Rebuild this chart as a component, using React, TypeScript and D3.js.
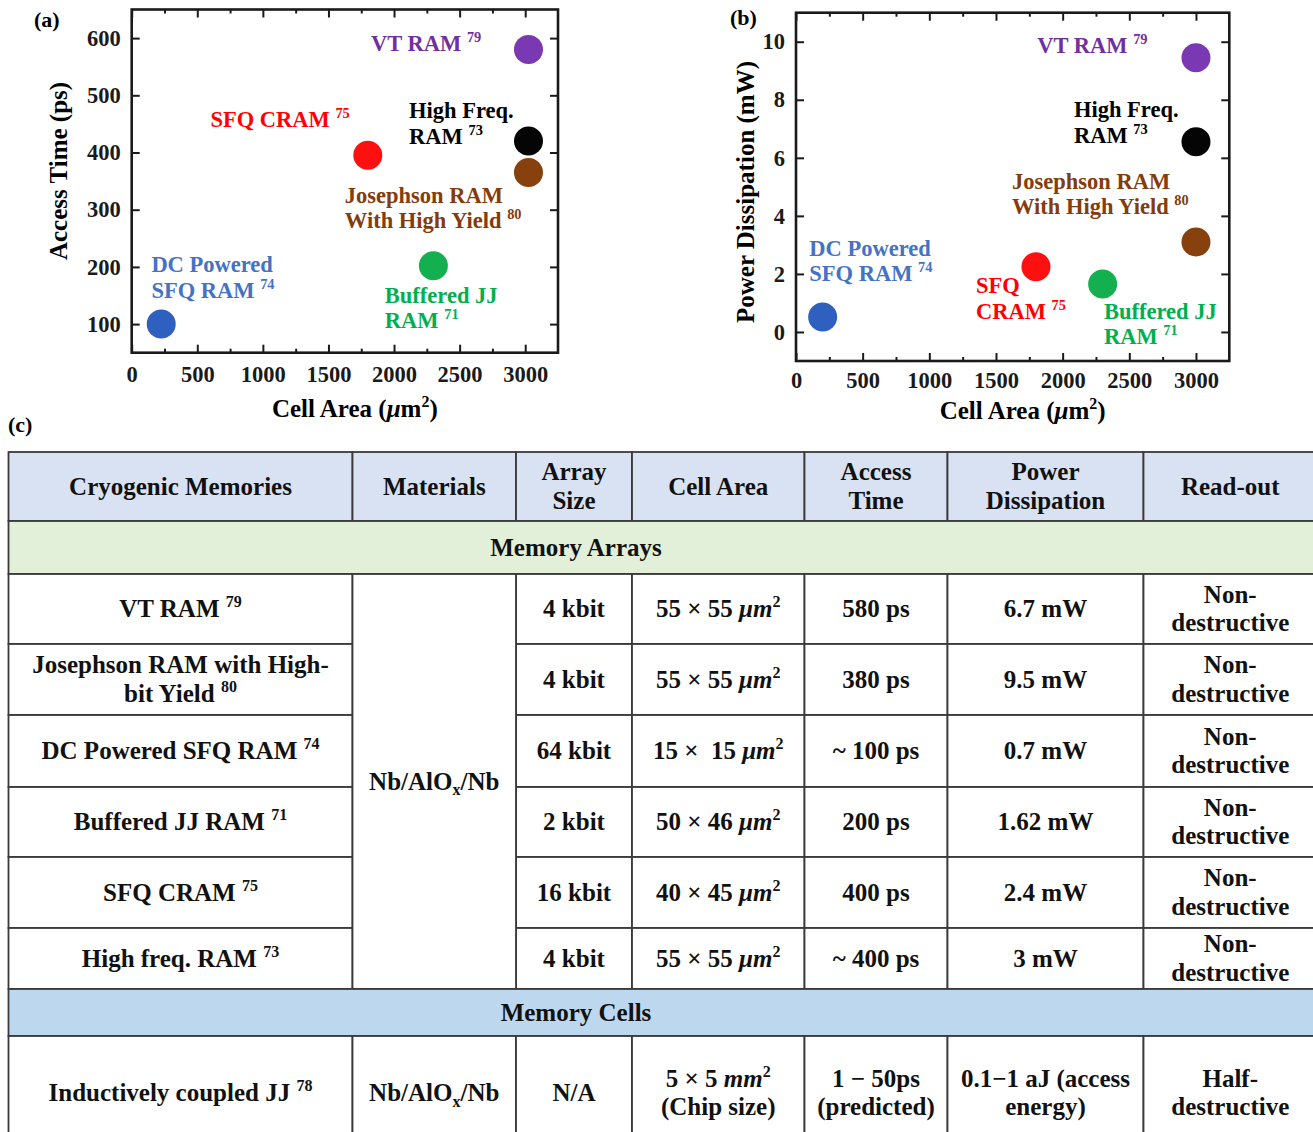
import * as d3 from "d3";
import React, { useRef, useEffect } from "react";

const W = 1313;
const H = 1132;
const FONT = "'Liberation Serif', 'Times New Roman', serif";

// ---- scatter data (panels a, b) ----
const memNames = ["DC Powered SFQ RAM", "SFQ CRAM", "Buffered JJ RAM", "VT RAM", "High Freq. RAM", "Josephson RAM With High Yield"];
const memRefs = ["74", "75", "71", "79", "73", "80"];
const cellAreaA = [225, 1800, 2300, 3025, 3025, 3025];
const accessTime = [100, 395, 202, 580, 420, 365];
const cellAreaB = [200, 1800, 2300, 3000, 3000, 3000];
const powerDiss = [0.52, 2.25, 1.65, 9.45, 6.55, 3.1];

const xTicks = [0, 500, 1000, 1500, 2000, 2500, 3000];
const yTicksA = [100, 200, 300, 400, 500, 600];
const yTicksB = [0, 2, 4, 6, 8, 10];

const labelLinesA = [["DC Powered", "SFQ RAM"], ["SFQ CRAM"], ["Buffered JJ", "RAM"], ["VT RAM"], ["High Freq.", "RAM"], ["Josephson RAM", "With High Yield"]];
const labelLinesB = [["DC Powered", "SFQ RAM"], ["SFQ", "CRAM"], ["Buffered JJ", "RAM"], ["VT RAM"], ["High Freq.", "RAM"], ["Josephson RAM", "With High Yield"]];

// styling / annotation placement (data units)
const dotColors = ["#2f5fbf", "#ff1010", "#14b050", "#7b38b3", "#050505", "#87410f"];
const textColors = ["#4472c4", "#ff0000", "#00b050", "#7030a0", "#000000", "#843c0c"];
const labelPosA = [[150, 191], [600, 445], [1930, 137], [1825, 577], [2115, 460], [1625, 312]];
const labelPosB = [[100, 2.62], [1350, 1.34], [2310, 0.45], [1810, 9.6], [2085, 7.4], [1620, 4.93]];

// ---- table data ----
type Seg = [string, string];
type Line = Seg[];
type Cell = Line[];
const p = (...lines: string[]): Cell => lines.map((s) => [[s, "n"]]);

const headerCells: Cell[] = [
  p("Cryogenic Memories"), p("Materials"), p("Array", "Size"), p("Cell Area"),
  p("Access", "Time"), p("Power", "Dissipation"), p("Read-out"),
];
const sectionTitles = ["Memory Arrays", "Memory Cells"];

const arrayNames: Cell[] = [
  [[["VT RAM ", "n"], ["79", "sup"]]],
  [[["Josephson RAM with High-", "n"]], [["bit Yield ", "n"], ["80", "sup"]]],
  [[["DC Powered SFQ RAM ", "n"], ["74", "sup"]]],
  [[["Buffered JJ RAM ", "n"], ["71", "sup"]]],
  [[["SFQ CRAM ", "n"], ["75", "sup"]]],
  [[["High freq. RAM ", "n"], ["73", "sup"]]],
];
const materialCell: Cell = [[["Nb/AlO", "n"], ["x", "sub"], ["/Nb", "n"]]];
const arraySizes = ["4 kbit", "4 kbit", "64 kbit", "2 kbit", "16 kbit", "4 kbit"];
const arrayDims = ["55 × 55 ", "55 × 55 ", "15 ×\u00a0 15 ", "50 × 46 ", "40 × 45 ", "55 × 55 "];
const arrayAccess = ["580 ps", "380 ps", "~ 100 ps", "200 ps", "400 ps", "~ 400 ps"];
const arrayPower = ["6.7 mW", "9.5 mW", "0.7 mW", "1.62 mW", "2.4 mW", "3 mW"];
const arrayReadout = ["Non-|destructive", "Non-|destructive", "Non-|destructive", "Non-|destructive", "Non-|destructive", "Non-|destructive"];

const cellRow: Cell[] = [
  [[["Inductively coupled JJ ", "n"], ["78", "sup"]]],
  materialCell,
  p("N/A"),
  [[["5 × 5 ", "n"], ["mm", "i"], ["2", "sup"]], [["(Chip size)", "n"]]],
  p("1 − 50ps", "(predicted)"),
  p("0.1−1 aJ (access", "energy)"),
  p("Half-", "destructive"),
];

// table geometry
const colX = [8.5, 352.5, 516, 632, 804.5, 947.5, 1143.5, 1317];
const rowY = [452, 521, 574, 644, 715, 787, 857, 928, 989, 1036, 1150];

const richText = (sel: any, line: Line, fs: number) => {
  let shift = 0;
  line.forEach(([s, k]) => {
    const ts = sel.append("tspan").text(s);
    const target = k === "sup" ? -0.4 * fs : k === "sub" ? 0.22 * fs : 0;
    if (target !== shift) ts.attr("dy", target - shift);
    shift = target;
    if (k === "sup" || k === "sub") ts.attr("font-size", fs * 0.64);
    if (k === "i") ts.attr("font-style", "italic");
  });
};

const drawScatter = (svg: any, cfg: any) => {
  const { left, right, top, bottom, yDomain, xs, ys, yTicks, yMinorStep, lines, pos } = cfg;
  const x = d3.scaleLinear().domain([0, 3250]).range([left, right]);
  const y = d3.scaleLinear().domain(yDomain).range([bottom, top]);
  const g = svg.append("g");
  const fs = 22.5;

  const styleAxis = (a: any) =>
    a.attr("font-size", fs).attr("font-family", FONT).attr("font-weight", "bold").attr("color", "#1a1a1a")
      .call((s: any) => s.select(".domain").remove())
      .call((s: any) => s.selectAll(".tick line").attr("stroke-width", 2));

  const xMinor = d3.range(250, 3250, 500);
  const yMinor = d3.range(yDomain[0] + yMinorStep, yDomain[1], 2 * yMinorStep).filter((v) => !yTicks.includes(v));

  // bottom / top
  g.append("g").attr("transform", `translate(0,${bottom})`)
    .call(d3.axisBottom(x).tickValues(xTicks).tickSize(-8).tickPadding(cfg.xPad).tickFormat(d3.format("d")))
    .call(styleAxis);
  g.append("g").attr("transform", `translate(0,${bottom})`)
    .call(d3.axisBottom(x).tickValues(xMinor).tickSize(-4).tickFormat(() => ""))
    .call(styleAxis);
  g.append("g").attr("transform", `translate(0,${top})`)
    .call(d3.axisTop(x).tickValues(xTicks).tickSize(-8).tickFormat(() => ""))
    .call(styleAxis);
  g.append("g").attr("transform", `translate(0,${top})`)
    .call(d3.axisTop(x).tickValues(xMinor).tickSize(-4).tickFormat(() => ""))
    .call(styleAxis);
  // left / right
  g.append("g").attr("transform", `translate(${left},0)`)
    .call(d3.axisLeft(y).tickValues(yTicks).tickSize(-8).tickPadding(11).tickFormat(d3.format("d")))
    .call(styleAxis);
  g.append("g").attr("transform", `translate(${left},0)`)
    .call(d3.axisLeft(y).tickValues(yMinor).tickSize(-4).tickFormat(() => ""))
    .call(styleAxis);
  g.append("g").attr("transform", `translate(${right},0)`)
    .call(d3.axisRight(y).tickValues(yTicks).tickSize(-8).tickFormat(() => ""))
    .call(styleAxis);
  g.append("g").attr("transform", `translate(${right},0)`)
    .call(d3.axisRight(y).tickValues(yMinor).tickSize(-4).tickFormat(() => ""))
    .call(styleAxis);

  g.append("rect")
    .attr("x", left).attr("y", top).attr("width", right - left).attr("height", bottom - top)
    .attr("fill", "none").attr("stroke", "#1a1a1a").attr("stroke-width", 2.6);

  g.selectAll("circle.dot").data(xs).enter().append("circle")
    .attr("class", "dot")
    .attr("cx", (d: number) => x(d))
    .attr("cy", (_: number, i: number) => y(ys[i]))
    .attr("r", 14.5)
    .attr("fill", (_: number, i: number) => dotColors[i]);

  lines.forEach((ls: string[], i: number) => {
    const [lx, ly] = pos[i];
    ls.forEach((s, k) => {
      const t = g.append("text")
        .attr("x", x(lx)).attr("y", y(ly) + k * 25.5)
        .attr("fill", textColors[i]).attr("font-size", fs).attr("font-weight", "bold");
      const line: Line = k === ls.length - 1 ? [[s + " ", "n"], [memRefs[i], "sup"]] : [[s, "n"]];
      richText(t, line, fs);
    });
  });

  // titles
  const xt = g.append("text").attr("x", (left + right) / 2 + cfg.xTitleDx).attr("y", cfg.xTitleY)
    .attr("text-anchor", "middle").attr("font-size", 25).attr("font-weight", "bold");
  richText(xt, [["Cell Area (", "n"], ["μ", "i"], ["m", "n"], ["2", "sup"], [")", "n"]], 25);
  g.append("text").attr("transform", `translate(${cfg.yTitleX},${cfg.yTitleY}) rotate(-90)`)
    .attr("text-anchor", "middle").attr("font-size", 25).attr("font-weight", "bold").text(cfg.yTitle);
  g.append("text").attr("x", cfg.panelX).attr("y", cfg.panelY)
    .attr("font-size", 22).attr("font-weight", "bold").text(cfg.panel);
};

const drawTable = (svg: any) => {
  const g = svg.append("g");
  const fs = 25;
  const stroke = "#3a3a3a";
  const cellRect = (c0: number, c1: number, r0: number, r1: number, fill: string) =>
    g.append("rect")
      .attr("x", colX[c0]).attr("y", rowY[r0])
      .attr("width", colX[c1] - colX[c0]).attr("height", rowY[r1] - rowY[r0])
      .attr("fill", fill).attr("stroke", stroke).attr("stroke-width", 1.8);
  const cellText = (cx: number, r0: number, r1: number, cell: Cell) => {
    const cy = (rowY[r0] + rowY[r1]) / 2 + 8;
    cell.forEach((line, k) => {
      const t = g.append("text")
        .attr("x", cx).attr("y", cy + (k - (cell.length - 1) / 2) * 28.4)
        .attr("text-anchor", "middle").attr("font-size", fs).attr("font-weight", "bold").attr("fill", "#111");
      richText(t, line, fs);
    });
  };
  const mid = (c: number) => (colX[c] + colX[c + 1]) / 2;

  // header
  headerCells.forEach((cell, c) => {
    cellRect(c, c + 1, 0, 1, "#d9e2f3");
    cellText(mid(c), 0, 1, cell);
  });
  // section: memory arrays
  cellRect(0, 7, 1, 2, "#e2efd9");
  cellText((colX[0] + colX[6]) / 2, 1, 2, p(sectionTitles[0]));
  // array rows
  arrayNames.forEach((name, i) => {
    const r = i + 2;
    const cells: Cell[] = [
      name,
      p(arraySizes[i]),
      [[[arrayDims[i], "n"], ["μm", "i"], ["2", "sup"]]],
      p(arrayAccess[i]),
      p(arrayPower[i]),
      p(...arrayReadout[i].split("|")),
    ];
    const cols = [0, 2, 3, 4, 5, 6];
    cells.forEach((cell, j) => {
      cellRect(cols[j], cols[j] + 1, r, r + 1, "#ffffff");
      cellText(mid(cols[j]), r, r + 1, cell);
    });
  });
  cellRect(1, 2, 2, 8, "#ffffff");
  cellText(mid(1), 2, 8, materialCell);
  // section: memory cells
  cellRect(0, 7, 8, 9, "#bdd7ee");
  cellText((colX[0] + colX[6]) / 2, 8, 9, p(sectionTitles[1]));
  cellRow.forEach((cell, c) => {
    cellRect(c, c + 1, 9, 10, "#ffffff");
    cellText(mid(c), 9, 10, cell);
  });
  g.append("text").attr("x", 8).attr("y", 432).attr("font-size", 22).attr("font-weight", "bold").text("(c)");
};

export default function App() {
  const ref = useRef<SVGSVGElement>(null);

  useEffect(() => {
    const svg = d3.select(ref.current);
    svg.selectAll("*").remove();
    svg.append("rect").attr("width", W).attr("height", H).attr("fill", "#fff");

    drawScatter(svg, {
      left: 131.7, right: 558, top: 9.5, bottom: 352.7, yDomain: [50, 650],
      xs: cellAreaA, ys: accessTime, yTicks: yTicksA, yMinorStep: 50,
      lines: labelLinesA, pos: labelPosA, xPad: 13,
      xTitleY: 417, xTitleDx: 10, yTitle: "Access Time (ps)", yTitleX: 67, yTitleY: 171,
      panel: "(a)", panelX: 34, panelY: 27,
    });
    drawScatter(svg, {
      left: 796, right: 1229.3, top: 12.7, bottom: 361, yDomain: [-1, 11],
      xs: cellAreaB, ys: powerDiss, yTicks: yTicksB, yMinorStep: 1,
      lines: labelLinesB, pos: labelPosB, xPad: 11,
      xTitleY: 419, xTitleDx: 10, yTitle: "Power Dissipation (mW)", yTitleX: 754, yTitleY: 192,
      panel: "(b)", panelX: 730, panelY: 25,
    });
    drawTable(svg);
  }, []);

  return (
    <svg
      ref={ref}
      width={W}
      height={H}
      fontFamily={FONT}
      style={{ position: "absolute", left: 0, top: 0 }}
    ></svg>
  );
}
